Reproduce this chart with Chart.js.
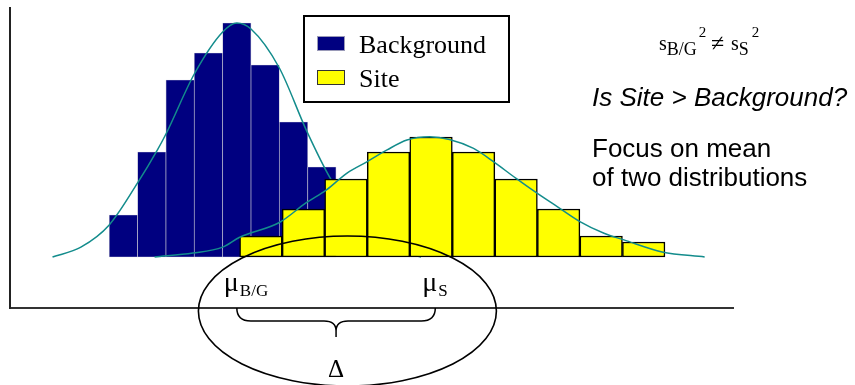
<!DOCTYPE html>
<html lang="en">
<head>
<meta charset="utf-8"/>
<title>Background vs Site</title>
<script src="https://cdn.jsdelivr.net/npm/chart.js"></script>
<style>
  body { margin: 0; background: #fff; }
  .wrap { position: relative; width: 855px; height: 385px; }
</style>
</head>
<body>
<div class="wrap"><canvas id="grafik"></canvas></div>
<script>
// histogram bins (centres) and heights
const bgCenters = [8, 10, 12, 14, 16, 18, 20, 22];
const bgCounts = [14, 35, 59, 68, 78, 64, 45, 30];
const siteCenters = [17.7, 20.7, 23.7, 26.7, 29.7, 32.7, 35.7, 38.7, 41.7, 44.7];
const siteCounts = [7, 16, 26, 35, 40, 35, 26, 16, 7, 5];

// fitted normal curves
const bgCurveX = [3, 5, 7, 9, 10.4, 11, 13, 15, 16, 17, 19, 20.9, 22.6, 25, 27, 29];
const bgCurveY = [0, 3.3, 10.7, 24.7, 35.7, 41, 61, 75, 78, 76, 63, 42.3, 26.2, 10, 2.5, 0];
const siteCurveX = [10.2, 12.9, 15, 16.2, 19, 20.9, 22.3, 23.75, 25.2, 26.6, 28, 29.6, 31, 32.7, 34.1, 35.7, 37.2, 38.6, 40.2, 41.9, 43.3, 46, 49];
const siteCurveY = [0, 1.3, 3.3, 6.6, 11.5, 18.1, 22.3, 27.9, 31.8, 35.7, 39, 40.1, 39.2, 36.2, 31.8, 26.2, 21.2, 16.8, 11.8, 7.9, 5.7, 1.7, 0];

// means marked under the axis
const meanValues = [16, 30];
const meanNames = ["B/G", "S"];

const pts = (xs, ys) => xs.map((v, i) => ({x: v, y: ys[i]}));

const navy = "#000080";
const kuning = "#ffff00";
const teal = "#138c8c";

// legend, text, ellipse and brace
const annot = {
  id: "annot",
  afterDraw(chart) {
    const {ctx, scales: {x, y}} = chart;
    ctx.save();
    ctx.textAlign = "left";
    ctx.textBaseline = "alphabetic";

    // legend box
    ctx.fillStyle = "#fff";
    ctx.fillRect(304, 16, 205, 86);
    ctx.strokeStyle = "#000";
    ctx.lineWidth = 2;
    ctx.strokeRect(304, 16, 205, 86);
    const bars = chart.data.datasets.filter(d => d.type === "bar");
    const rows = [[36, 53], [70, 87]];
    bars.forEach((d, i) => {
      ctx.fillStyle = d.backgroundColor;
      ctx.fillRect(317, rows[i][0], 28, 15);
      ctx.lineWidth = 1;
      ctx.strokeStyle = i === 0 ? "#9a9ab8" : "#333";
      ctx.strokeRect(317.5, rows[i][0] + 0.5, 27, 14);
      ctx.fillStyle = "#000";
      ctx.font = "26px 'Liberation Serif', 'Times New Roman', serif";
      ctx.fillText(d.label, 359, rows[i][1]);
    });

    // formula top right
    const serif = s => s + "px 'Liberation Serif', 'Times New Roman', serif";
    const put = (t, px, xx, yy) => { ctx.font = serif(px); ctx.fillText(t, xx, yy); return xx + ctx.measureText(t).width; };
    ctx.fillStyle = "#000";
    let cx = put("s", 20, 659, 50);
    cx = put("B/G", 18, cx, 55);
    put("2", 15, cx + 2, 37);
    put("\u2260", 24, 711, 51);
    cx = put("s", 20, 731, 50);
    cx = put("S", 18, cx, 55);
    put("2", 15, cx + 3, 37);

    ctx.font = "italic 26px 'Liberation Sans', Arial, sans-serif";
    ctx.fillText("Is Site > Background?", 592, 106);
    ctx.font = "26px 'Liberation Sans', Arial, sans-serif";
    ctx.fillText("Focus on mean", 592, 157);
    ctx.fillText("of two distributions", 592, 186);

    // ellipse round the means
    ctx.strokeStyle = "#000";
    ctx.lineWidth = 1.6;
    ctx.beginPath();
    ctx.ellipse(x.getPixelForValue(23.8), y.getPixelForValue(-18), 149, 75, 0, 0, Math.PI * 2);
    ctx.stroke();

    // mean labels
    const xL = x.getPixelForValue(meanValues[0]);
    const xR = x.getPixelForValue(meanValues[1]);
    meanValues.forEach((m, i) => {
      const px = x.getPixelForValue(m) - 13;
      const e = put("\u03bc", 28, px, 291);
      put(meanNames[i], 17, e + 1, 296);
    });

    // brace between the means
    const top = y.bottom, mid = top + 13, tip = top + 29, xc = (xL + xR) / 2;
    ctx.lineWidth = 1.5;
    ctx.beginPath();
    ctx.moveTo(xL, top);
    ctx.quadraticCurveTo(xL, mid, xL + 14, mid);
    ctx.lineTo(xc - 12, mid);
    ctx.quadraticCurveTo(xc, mid, xc, mid + 10);
    ctx.lineTo(xc, tip);
    ctx.moveTo(xR, top);
    ctx.quadraticCurveTo(xR, mid, xR - 14, mid);
    ctx.lineTo(xc + 12, mid);
    ctx.quadraticCurveTo(xc, mid, xc, mid + 10);
    ctx.stroke();

    ctx.textAlign = "center";
    put("\u0394", 25, xc, 377);
    ctx.restore();
  }
};

new Chart(document.getElementById("grafik"), {
  data: {
    datasets: [
      {
        type: "bar", label: "Background", data: pts(bgCenters, bgCounts),
        backgroundColor: navy, borderColor: "#b4b4cc", borderWidth: 0.7,
        borderSkipped: false, barPercentage: 1, categoryPercentage: 1, grouped: false,
        xAxisID: "x", order: 4
      },
      {
        type: "line", label: "bg fit", data: pts(bgCurveX, bgCurveY),
        borderColor: teal, borderWidth: 1.5, pointRadius: 0,
        cubicInterpolationMode: "monotone", xAxisID: "x", order: 3
      },
      {
        type: "bar", label: "Site", data: pts(siteCenters, siteCounts),
        backgroundColor: kuning, borderColor: "#000", borderWidth: 1.5,
        borderSkipped: false, barPercentage: 1, categoryPercentage: 1, grouped: false,
        xAxisID: "x2", order: 2
      },
      {
        type: "line", label: "site fit", data: pts(siteCurveX, siteCurveY),
        borderColor: teal, borderWidth: 1.5, pointRadius: 0,
        cubicInterpolationMode: "monotone", xAxisID: "x", order: 1
      }
    ]
  },
  options: {
    responsive: true,
    maintainAspectRatio: false,
    animation: false,
    layout: { padding: { left: 10, top: 8, right: 122, bottom: 77 } },
    plugins: { legend: { display: false }, tooltip: { enabled: false } },
    scales: {
      x: {
        type: "linear", position: "bottom", min: 0, max: 51, offset: false,
        grid: { display: false, drawTicks: false },
        ticks: { display: false, stepSize: 100 },
        border: { display: true, color: "#333", width: 2 }
      },
      x2: {
        type: "linear", display: false, min: 0, max: 51, offset: false,
        ticks: { stepSize: 100 }
      },
      y: {
        type: "linear", min: -17, max: 83,
        grid: { display: false, drawTicks: false },
        ticks: { display: false },
        border: { display: true, color: "#222", width: 2 }
      }
    }
  },
  plugins: [annot]
});
</script>
</body>
</html>
